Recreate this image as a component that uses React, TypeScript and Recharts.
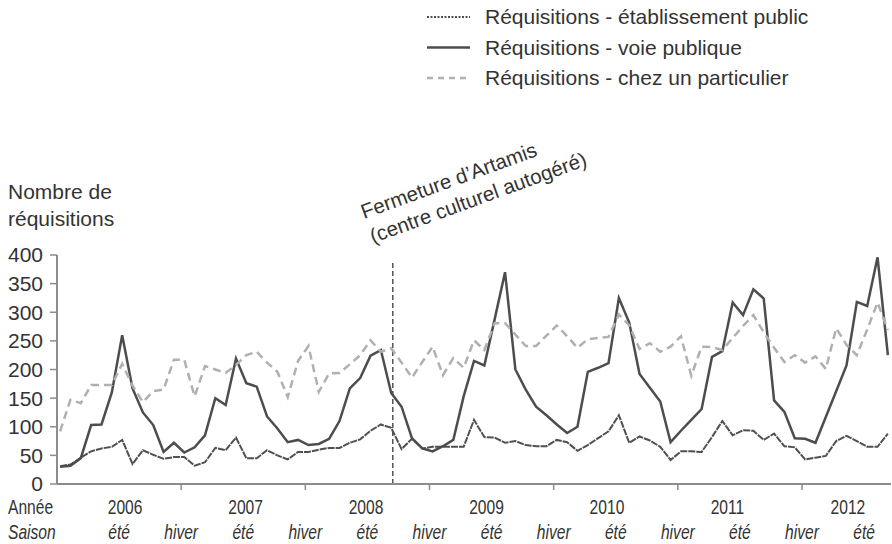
import { LineChart, Line, XAxis, YAxis, ReferenceLine, Legend } from 'recharts';

const FONT = '"Liberation Sans", Arial, sans-serif';
const TEXT = '#333333';
const AXIS = '#8c8c8c';

// one value per month, January 2006 -> September 2012
const voiePublique = [
  30, 32, 45, 103, 104, 160, 260, 167, 125, 103, 56, 72,
  55, 64, 85, 150, 138, 219, 176, 170, 118, 97, 73, 77,
  68, 70, 79, 110, 167, 185, 224, 234, 159, 135, 80, 62,
  57, 66, 77, 153, 215, 207, 288, 370, 200, 165, 135, 120,
  104, 89, 100, 196, 203, 211, 325, 282, 192, 168, 144, 73,
  93, 112, 131, 222, 232, 317, 295, 340, 324, 146, 126, 80,
  79, 72, 117, 162, 207, 318, 311, 396, 225,
];

const chezParticulier = [
  92, 147, 141, 173, 173, 173, 210, 172, 143, 162, 165, 217,
  217, 153, 206, 200, 194, 208, 225, 231, 212, 196, 152, 215,
  241, 161, 193, 194, 209, 225, 251, 231, 237, 212, 186, 213,
  240, 190, 220, 203, 251, 234, 281, 281, 261, 241, 241, 259,
  277, 258, 238, 253, 255, 257, 296, 277, 236, 246, 231, 240,
  258, 189, 240, 239, 234, 255, 276, 295, 265, 238, 213, 225,
  212, 223, 201, 272, 243, 225, 270, 317, 269,
];

const etablissementPublic = [
  31, 34, 46, 57, 62, 65, 77, 35, 59, 51, 44, 47,
  47, 32, 38, 63, 59, 81, 45, 45, 59, 50, 43, 56,
  56, 60, 63, 63, 72, 78, 93, 104, 98, 61, 79, 62,
  65, 65, 65, 65, 112, 82, 81, 72, 75, 68, 66, 66,
  77, 73, 58, 68, 80, 92, 120, 72, 83, 76, 65, 42,
  57, 57, 56, 82, 110, 85, 94, 93, 77, 88, 66, 64,
  43, 46, 49, 75, 84, 75, 65, 65, 88,
];

const years = ['2006', '2007', '2008', '2009', '2010', '2011', '2012'];
const yTicks = [0, 50, 100, 150, 200, 250, 300, 350, 400];

// month (counted from Jan 2006) where Artamis closed
const ARTAMIS_MONTH = 32.45;
const MONTH_OFFSET = 0.3;

const data = voiePublique.map((v, i) => ({
  month: i + MONTH_OFFSET,
  voie: v,
  etab: etablissementPublic[i],
  particulier: chezParticulier[i],
}));

const series = [
  { key: 'etab', name: 'Réquisitions - établissement public', color: '#505050', width: 2, dash: '7 1', legendDash: '2 1.5' },
  { key: 'voie', name: 'Réquisitions - voie publique', color: '#4d4d4d', width: 2.5, dash: undefined, legendDash: undefined },
  { key: 'particulier', name: 'Réquisitions - chez un particulier', color: '#b0b0b0', width: 2.5, dash: '8 5', legendDash: '6 5' },
];

const xTicks = Array.from({ length: 14 }, (_, i) => i * 6);

// axis labels in the source are typed in a condensed face
const Condensed = ({ x, y, anchor = 'middle', italic = false, children }: any) => (
  <text
    transform={`translate(${x},${y}) scale(0.78,1)`}
    textAnchor={anchor}
    fontFamily={FONT}
    fontSize={20}
    fill={TEXT}
    fontStyle={italic ? 'italic' : 'normal'}
  >
    {children}
  </text>
);

const XTick = (props: any) => {
  const { x, y, payload } = props;
  const v = payload.value as number;
  const row1 = y + 30;
  const row2 = y + 55;
  if (v % 12 === 0) {
    return (
      <g>
        {v > 0 && <line x1={x} x2={x} y1={y} y2={y + 6} stroke={AXIS} strokeWidth={1.5} />}
        {v === 0 && (
          <>
            <Condensed x={8} y={row1} anchor="start">Année</Condensed>
            <Condensed x={8} y={row2} anchor="start" italic>Saison</Condensed>
          </>
        )}
        {v > 0 && <Condensed x={x} y={row2} italic>hiver</Condensed>}
      </g>
    );
  }
  const k = Math.floor(v / 12);
  return (
    <g>
      <Condensed x={x + 6 - 3.7 * k} y={row1}>{years[k]}</Condensed>
      <Condensed x={x} y={row2} italic>été</Condensed>
    </g>
  );
};

const renderLegend = () => (
  <svg width={465} height={100}>
    {series.map((s, i) => {
      const cy = 17 + i * 30.5;
      return (
        <g key={s.key}>
          <line x1={0} x2={43} y1={cy} y2={cy} stroke={s.color} strokeWidth={s.width} strokeDasharray={s.legendDash} />
          <text x={58} y={cy} dy="0.35em" fontFamily={FONT} fontSize={21} fill={TEXT}>{s.name}</text>
        </g>
      );
    })}
  </svg>
);

export default function App() {
  return (
    <div style={{ position: 'absolute', left: 0, top: 0, width: 892, height: 544, background: '#fff' }}>
      <LineChart width={892} height={544} data={data} margin={{ top: 255, right: 1, bottom: 0, left: 0 }}>
        <XAxis
          type="number"
          dataKey="month"
          domain={[0, 80.6]}
          ticks={xTicks}
          interval={0}
          height={60}
          tickSize={0}
          tickMargin={0}
          tickLine={false}
          axisLine={{ stroke: AXIS, strokeWidth: 2 }}
          tick={<XTick />}
        />
        <YAxis
          domain={[0, 400]}
          ticks={yTicks}
          interval={0}
          width={57}
          tickSize={7}
          tickMargin={7}
          axisLine={{ stroke: AXIS, strokeWidth: 2 }}
          tickLine={{ stroke: AXIS, strokeWidth: 1.5 }}
          tick={{ fontFamily: FONT, fontSize: 21, fill: TEXT }}
        />
        <ReferenceLine
          segment={[{ x: ARTAMIS_MONTH, y: 0 }, { x: ARTAMIS_MONTH, y: 386 }]}
          stroke="#555555"
          strokeWidth={1.5}
          strokeDasharray="5 3"
        />
        {series.map((s) => (
          <Line
            key={s.key}
            type="linear"
            dataKey={s.key}
            name={s.name}
            stroke={s.color}
            strokeWidth={s.width}
            strokeDasharray={s.dash}
            dot={false}
            activeDot={false}
            isAnimationActive={false}
          />
        ))}
        <Legend
          layout="vertical"
          verticalAlign="middle"
          align="center"
          content={renderLegend}
          wrapperStyle={{ left: 427, top: 0, width: 465 }}
        />
      </LineChart>
      <svg
        width={892}
        height={544}
        style={{ position: 'absolute', left: 0, top: 0, pointerEvents: 'none' }}
      >
        <text x={8} fontFamily={FONT} fontSize={21} fill={TEXT}>
          <tspan x={8} y={199}>Nombre de</tspan>
          <tspan x={8} y={226}>réquisitions</tspan>
        </text>
        <text transform="translate(364,219) rotate(-20)" fontFamily={FONT} fontSize={20.5} fill={TEXT}>
          <tspan x={0} y={0}>Fermeture d’Artamis</tspan>
          <tspan x={0} y={26}>(centre culturel autogéré)</tspan>
        </text>
      </svg>
    </div>
  );
}
